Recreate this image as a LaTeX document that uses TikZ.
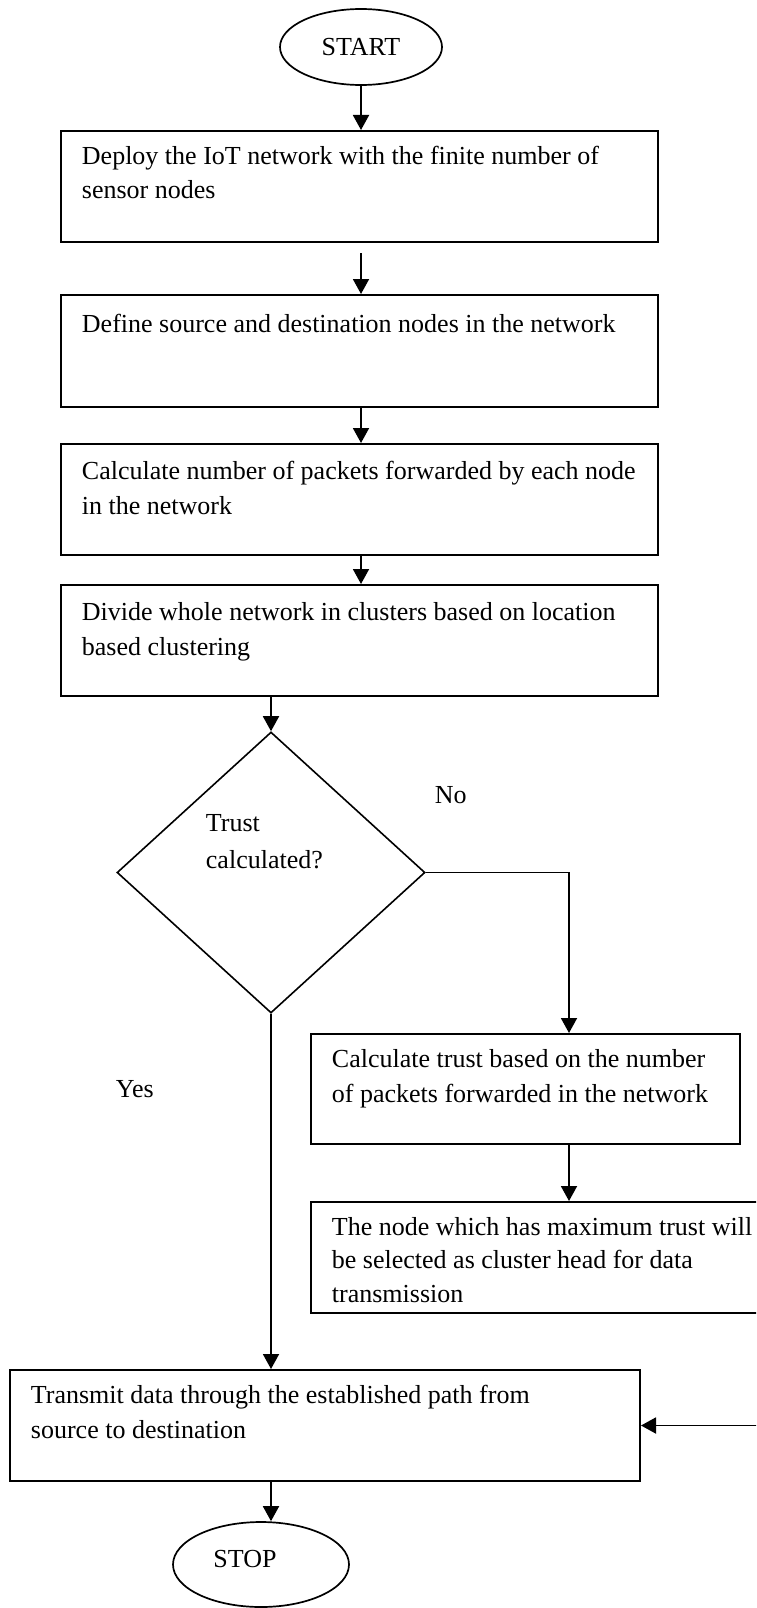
\documentclass[tikz,border=0pt]{standalone}
\usepackage{fontspec}
\setmainfont{Liberation Serif}
\usetikzlibrary{arrows.meta,shapes.geometric}
\newcommand\myfs{\fontsize{26pt}{35pt}\selectfont}
\begin{document}
\begin{tikzpicture}[x=1pt,y=-1pt,line width=1.9pt,line join=miter,
  box/.style={draw, rectangle, inner sep=0pt, anchor=north west, line width=2pt},
  txt/.style={anchor=base west, inner sep=0pt, align=left, font=\myfs},
  term/.style={draw, ellipse, inner sep=0pt, line width=1.7pt, font=\myfs},
  arr/.style={-{Triangle[length=15pt,width=16pt]}}
]
\useasboundingbox (0,0) rectangle (756,1608);
\clip (0,0) rectangle (756,1608);

% terminals
\node[term, minimum width=162pt, minimum height=76pt] (start) at (361,47) {START};

% process boxes (text: base anchor = last line)
\node[box, minimum width=597pt, minimum height=111pt] (b1) at (60,130) {};
\node[txt, font=\fontsize{26pt}{34pt}\selectfont] (t1) at (81,199) {Deploy the IoT network with the finite number of\\sensor nodes};

\node[box, minimum width=597pt, minimum height=112pt] (b2) at (60,294) {};
\node[txt] (t2) at (81,332) {Define source and destination nodes in the network};

\node[box, minimum width=597pt, minimum height=111pt] (b3) at (60,443) {};
\node[txt] (t3) at (81,514) {Calculate number of packets forwarded by each node\\in the network};

\node[box, minimum width=597pt, minimum height=111pt] (b4) at (60,584) {};
\node[txt] (t4) at (81,655) {Divide whole network in clusters based on location\\based clustering};

% decision
\node[draw, diamond, inner sep=0pt, minimum width=308pt, minimum height=281pt, line width=1.6pt] (dec) at (271,872.5) {};
\node[txt, font=\fontsize{26pt}{37pt}\selectfont] (tdec) at (205,868) {Trust\\calculated?};
\node[txt] (no) at (434,803) {No};
\node[txt] (yes) at (115,1097) {Yes};

\node[box, minimum width=429pt, minimum height=110pt] (b5) at (310,1033) {};
\node[txt] (t5) at (331,1102) {Calculate trust based on the number\\of packets forwarded in the network};

\node[box, minimum width=465pt, minimum height=111pt] (b6) at (310,1201) {};
\node[txt, font=\fontsize{26pt}{33.5pt}\selectfont] (t6) at (331,1302) {The node which has maximum trust will\\be selected as cluster head for data\\transmission};

\node[box, minimum width=630pt, minimum height=111pt] (b7) at (9,1369) {};
\node[txt] (t7) at (30,1438) {Transmit data through the established path from\\source to destination};

\node[term, minimum width=176pt, minimum height=85pt] (stop) at (261,1564.5) {};
\node[font=\myfs, inner sep=0pt] (tstop) at (245,1559) {STOP};

% connectors
\coordinate (axis) at (361,0);
\coordinate (col) at (569,0);
\draw[arr] (start.south) -- (axis |- b1.north);
\draw[arr] ([yshift=-10pt]axis |- b1.south) -- (axis |- b2.north);
\draw[arr] (axis |- b2.south) -- (axis |- b3.north);
\draw[arr] (axis |- b3.south) -- (axis |- b4.north);
\draw[arr] (dec.north |- b4.south) -- (dec.north);
\draw[arr] (dec.east) -| (col |- b5.north);
\draw[arr] (col |- b5.south) -- (col |- b6.north);
\draw[arr] (dec.south) -- (dec.south |- b7.north);
\draw[arr] (b6.east) -- ++(20,0) |- (b7.east);
\draw[arr] (dec.south |- b7.south) -- (dec.south |- stop.north);
\end{tikzpicture}
\end{document}
